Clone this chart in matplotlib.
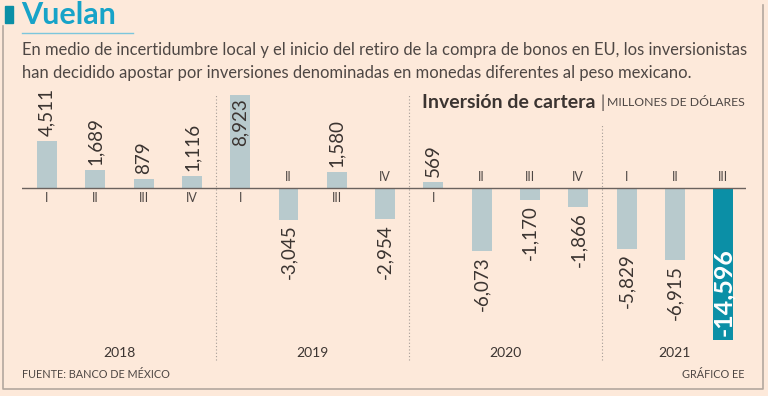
import matplotlib
matplotlib.use('Agg')
import matplotlib.pyplot as plt
from matplotlib.patches import Rectangle

# data: portfolio investment, millions of dollars, by quarter
quarters = ['I', 'II', 'III', 'IV', 'I', 'II', 'III', 'IV', 'I', 'II', 'III', 'IV', 'I', 'II', 'III']
values = [4511, 1689, 879, 1116, 8923, -3045, 1580, -2954, 569, -6073, -1170, -1866, -5829, -6915, -14596]
value_labels = ['4,511', '1,689', '879', '1,116', '8,923', '-3,045', '1,580', '-2,954', '569',
                '-6,073', '-1,170', '-1,866', '-5,829', '-6,915', '-14,596']
years = ['2018', '2019', '2020', '2021']
year_pos = [1.5, 5.5, 9.5, 13]
separators = [3.5, 7.5, 11.5]

BG = '#fde9da'
BAR = '#b8cacd'
TEAL = '#0b8fa6'
TXT = '#3b3431'
GRAY = '#4e4744'
FONT = ['Lato', 'DejaVu Sans']
plt.rcParams['font.family'] = FONT

W, H = 768, 396
fig = plt.figure(figsize=(7.68, 3.96), dpi=100)
fig.patch.set_facecolor(BG)

def fx(x):
    return x / W

def fy(y):
    return 1 - y / H

# frame (open at the top)
fig.add_artist(plt.Line2D([fx(3), fx(3), fx(763), fx(763)], [fy(26), fy(389), fy(389), fy(5)],
                          color='#b3a79e', lw=1.2, transform=fig.transFigure))
fig.add_artist(Rectangle((fx(5), fy(23)), fx(8), 17 / H, color=TEAL, transform=fig.transFigure))
fig.add_artist(plt.Line2D([fx(22), fx(133)], [fy(33), fy(33)], color='#7cc6dc', lw=1,
                          transform=fig.transFigure))

fig.text(fx(21), fy(15), 'Vuelan', fontsize=22, fontweight='bold', color='#17a3c8', va='center')
fig.text(fx(22), fy(50), 'En medio de incertidumbre local y el inicio del retiro de la compra de bonos en EU, los inversionistas',
         fontsize=11.9, color=GRAY, va='center')
fig.text(fx(22), fy(73), 'han decidido apostar por inversiones denominadas en monedas diferentes al peso mexicano.',
         fontsize=11.9, color=GRAY, va='center')
fig.text(fx(596), fy(103), 'Inversión de cartera', fontsize=14, fontweight='bold', color=TXT,
         va='center', ha='right')
fig.text(fx(603), fy(103), '|', fontsize=12, color=GRAY, va='center', ha='center')
fig.text(fx(745), fy(103), 'MILLONES DE DÓLARES', fontsize=8.8, color=GRAY, va='center', ha='right')
fig.text(fx(22), fy(374), 'FUENTE: BANCO DE MÉXICO', fontsize=7.8, color=GRAY, va='center')
fig.text(fx(745), fy(374), 'GRÁFICO EE', fontsize=7.8, color=GRAY, va='center', ha='right')

# chart area: baseline at y=188 px, 0.01042 px per million
scale = 0.01042
top_px, bot_px = 80, 365
ax = fig.add_axes([fx(22), fy(bot_px), (746 - 22) / W, (bot_px - top_px) / H])
ax.set_facecolor('none')
ax.set_xlim((22 - 47) / 48.3, (746 - 47) / 48.3)
ax.set_ylim(-(bot_px - 188) / scale, (188 - top_px) / scale)
ax.axis('off')

x = list(range(len(values)))
colors = [BAR] * (len(values) - 1) + [TEAL]
ax.bar(x, values, width=0.414, color=colors, zorder=2)
ax.axhline(0, color='#6b625e', lw=1, zorder=3)

for s in separators:
    ytop = 8900 if s < 11 else 6000
    ax.vlines(s, -16500, ytop, colors='#a59c96', linestyles=(0, (1, 2)), lw=0.8)

off = 5 / scale
for i, (v, lab, q) in enumerate(zip(values, value_labels, quarters)):
    if v >= 0:
        ax.text(i, -10 / scale, q, ha='center', va='center', fontsize=9, color=GRAY)
        if v > 8000:
            ax.text(i, v - 3 / scale, lab, rotation=90, ha='center', va='top', fontsize=13.5,
                    color=TXT)
        else:
            ax.text(i, v + off, lab, rotation=90, ha='center', va='bottom', fontsize=13.5,
                    color=TXT)
    else:
        ax.text(i, 11 / scale, q, ha='center', va='center', fontsize=9, color=GRAY)
        if i == len(values) - 1:
            ax.text(i, v + 4 / scale, lab, rotation=90, ha='center', va='bottom', fontsize=18,
                    color='white', fontweight='bold')
        else:
            ax.text(i, v - off, lab, rotation=90, ha='center', va='top', fontsize=13.5,
                    color=TXT)

for yp, yr in zip(year_pos, years):
    ax.text(yp, -(353 - 188) / scale, yr, ha='center', va='center', fontsize=10, color=TXT)

fig.savefig('out.png', dpi=100, facecolor=BG)
